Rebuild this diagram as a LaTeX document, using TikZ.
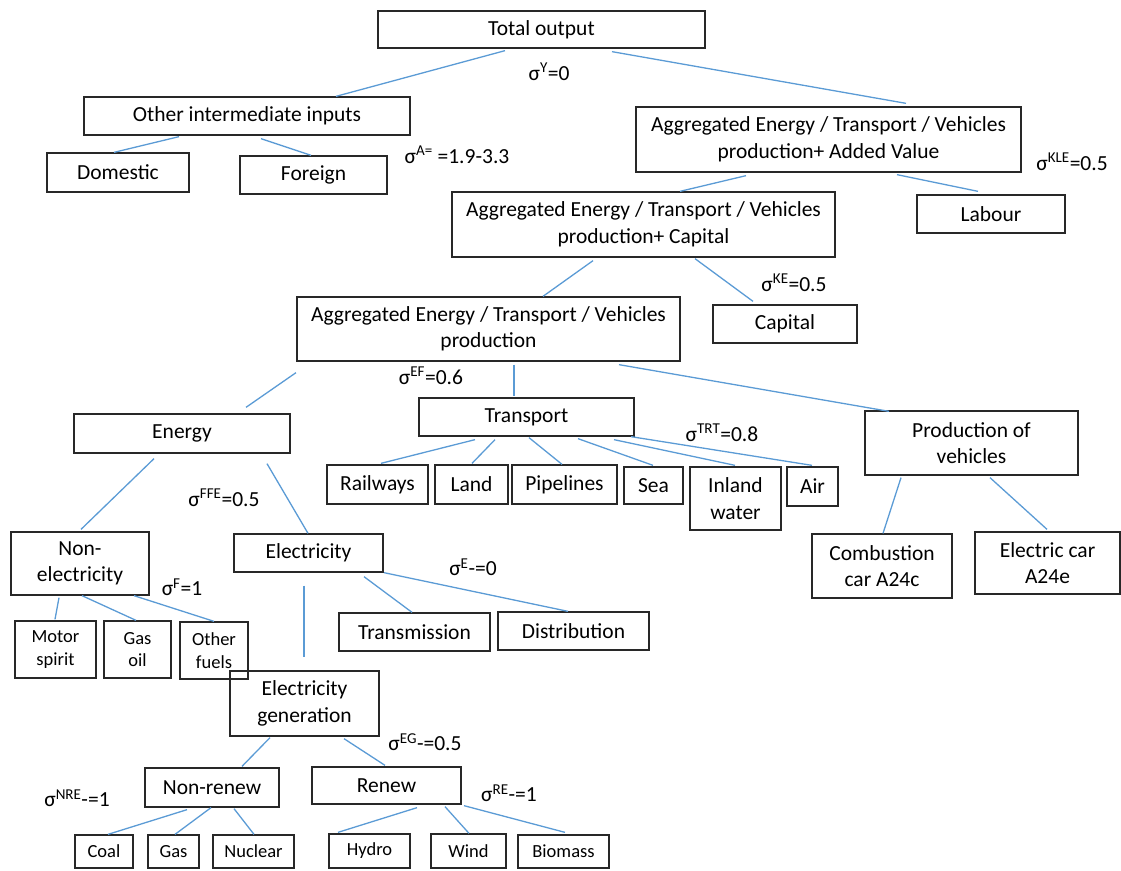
\documentclass[tikz,border=0pt]{standalone}
\usepackage{fontspec}
\setmainfont{Carlito}
\definecolor{linkblue}{RGB}{91,155,213}
\definecolor{boxline}{RGB}{40,40,40}
\newcommand{\bigtxt}{\fontsize{21.5}{26.5}\selectfont}
\newcommand{\smalltxt}{\fontsize{18.5}{22.5}\selectfont}
\newcommand{\sig}[2]{σ\textsuperscript{#1}#2}
\tikzset{
  blk/.style={draw=boxline, line width=1.3pt, inner sep=0pt, align=center, font=\bigtxt},
  smallblk/.style={blk, font=\smalltxt},
  elas/.style={inner sep=0pt, font=\bigtxt},
  link/.style={draw=linkblue, line width=1.3pt}
}
\begin{document}
\begin{tikzpicture}[x=1pt,y=-1pt]
  \useasboundingbox (0,0) rectangle (1121,870);
  \node[blk, minimum width=327, minimum height=37] (tot) at (541.5,29.5) {Total output};
  \node[blk, minimum width=326, minimum height=38] (oii) at (247,116) {Other intermediate inputs};
  \node[blk, minimum width=142, minimum height=39] (dom) at (118,172.5) {Domestic};
  \node[blk, minimum width=147, minimum height=38] (for) at (313.5,175) {Foreign};
  \node[blk, minimum width=385, minimum height=65] (ava) at (828.5,139.5) {Aggregated Energy / Transport / Vehicles\\production+ Added Value};
  \node[blk, minimum width=383, minimum height=65] (akc) at (643.5,224.5) {Aggregated Energy / Transport / Vehicles\\production+ Capital};
  \node[blk, minimum width=148, minimum height=38] (lab) at (991,214) {Labour};
  \node[blk, minimum width=144, minimum height=38] (cap) at (785,324) {Capital};
  \node[blk, minimum width=383, minimum height=64] (ap) at (488.5,329) {Aggregated Energy / Transport / Vehicles\\production};
  \node[blk, minimum width=216, minimum height=39] (ene) at (182,433.5) {Energy};
  \node[blk, minimum width=215, minimum height=38] (tra) at (526.5,417) {Transport};
  \node[blk, minimum width=213, minimum height=64] (pv) at (971.5,443) {Production of\\vehicles};
  \node[blk, minimum width=101, minimum height=39] (rail) at (377.5,484.5) {Railways};
  \node[blk, minimum width=73, minimum height=39] (land) at (471.5,484.5) {Land};
  \node[blk, minimum width=105, minimum height=39] (pipe) at (564.5,484.5) {Pipelines};
  \node[blk, minimum width=59, minimum height=37] (sea) at (653.5,485.5) {Sea};
  \node[blk, minimum width=91, minimum height=63] (inl) at (735.5,498.5) {Inland\\water};
  \node[blk, minimum width=51, minimum height=39] (air) at (812.5,486.5) {Air};
  \node[blk, minimum width=138, minimum height=63] (nel) at (80,563.5) {Non-\\electricity};
  \node[blk, minimum width=149, minimum height=38] (ele) at (308.5,553) {Electricity};
  \node[blk, minimum width=140, minimum height=64] (comb) at (882,566) {Combustion\\car A24c};
  \node[blk, minimum width=145, minimum height=62] (ecar) at (1047.5,563) {Electric car\\A24e};
  \node[smallblk, minimum width=81, minimum height=57] (mot) at (55.5,649.5) {Motor\\spirit};
  \node[smallblk, minimum width=67, minimum height=57] (gasoil) at (137.5,649.5) {Gas\\oil};
  \node[smallblk, minimum width=68, minimum height=57] (oth) at (214,650.5) {Other\\fuels};
  \node[blk, minimum width=151, minimum height=38] (trans) at (414.5,632) {Transmission};
  \node[blk, minimum width=151, minimum height=38] (dist) at (573.5,631) {Distribution};
  \node[blk, minimum width=149, minimum height=65] (eg) at (304.5,703.5) {Electricity\\generation};
  \node[blk, minimum width=134, minimum height=39] (nr) at (212,787.5) {Non-renew};
  \node[blk, minimum width=149, minimum height=37] (rn) at (386.5,785.5) {Renew};
  \node[smallblk, minimum width=58, minimum height=33] (coal) at (104,851.5) {Coal};
  \node[smallblk, minimum width=51, minimum height=33] (gas) at (173.5,851.5) {Gas};
  \node[smallblk, minimum width=81, minimum height=33] (nuc) at (253.5,851.5) {Nuclear};
  \node[smallblk, minimum width=81, minimum height=34] (hyd) at (369.5,851) {Hydro};
  \node[smallblk, minimum width=75, minimum height=34] (wind) at (468.5,851) {Wind};
  \node[smallblk, minimum width=91, minimum height=33] (bio) at (563.5,851.5) {Biomass};
  % elasticities
  \node[elas] (sy) at (549,72) {\sig{Y}{=0}};
  \node[elas] (sa) at (457,155) {\sig{A=}{ =1.9-3.3}};
  \node[elas] (skle) at (1072,162) {\sig{KLE}{=0.5}};
  \node[elas] (ske) at (794,283) {\sig{KE}{=0.5}};
  \node[elas] (sef) at (431,376) {\sig{EF}{=0.6}};
  \node[elas] (strt) at (722,433) {\sig{TRT}{=0.8}};
  \node[elas] (sffe) at (224,498) {\sig{FFE}{=0.5}};
  \node[elas] (se) at (473,567) {\sig{E}{-=0}};
  \node[elas] (sf) at (182,587) {\sig{F}{=1}};
  \node[elas] (seg) at (425,742) {\sig{EG}{-=0.5}};
  \node[elas] (snre) at (77,798) {\sig{NRE}{-=1}};
  \node[elas] (sre) at (509,793) {\sig{RE}{-=1}};
  % links
  \foreach \a/\b/\sx/\sy/\ex/\ey in {
    tot/oii/-36.5/2/89/0, tot/ava/70.5/3/77.5/-3,
    oii/dom/-68/1/-4/0, oii/for/14/3/-2.5/0,
    ava/akc/-82.5/3/36.5/0, ava/lab/68.5/2/-13/-3,
    akc/ap/-50.5/3/54.5/0, akc/cap/51.5/1/-32/-3,
    ap/ene/-192.5/11/64/-6, ap/tra/25.5/3/-12.5/-1, ap/pv/130.5/3/-82.5/1,
    tra/rail/-51.5/3/3.5/-1, tra/land/-31.5/3/0.5/-1, tra/pipe/2.5/1/-2.5/0,
    tra/sea/51.5/2/-0.5/-1, tra/inl/87.5/3/-0.5/-1, tra/air/104.5/0/-0.5/-1,
    pv/comb/-70.5/2/1/0, pv/ecar/18.5/2/-0.5/-2,
    ene/nel/-28/5/1/-2, ene/ele/85/10/-0.5/0,
    ele/trans/55.5/4/-2.5/0, ele/dist/75.5/0/-5.5/0, ele/eg/-4.5/13/-0.5/-13,
    nel/mot/-21/2/-0.5/-1, nel/gasoil/2/0/-1.5/0, nel/oth/54/0/0/0,
    eg/nr/-34.5/1/30/-1, eg/rn/39.5/2/-1.5/-1,
    nr/coal/-25/2/4/0, nr/gas/-1/0/1.5/0, nr/nuc/22/1/0.5/0,
    rn/hyd/30.5/3/-31.5/-1, rn/wind/58.5/2/0.5/0, rn/bio/77.5/1/1.5/-2}
    \draw[link] ([shift={(\sx,\sy)}]\a.south) -- ([shift={(\ex,\ey)}]\b.north);
\end{tikzpicture}
\end{document}
